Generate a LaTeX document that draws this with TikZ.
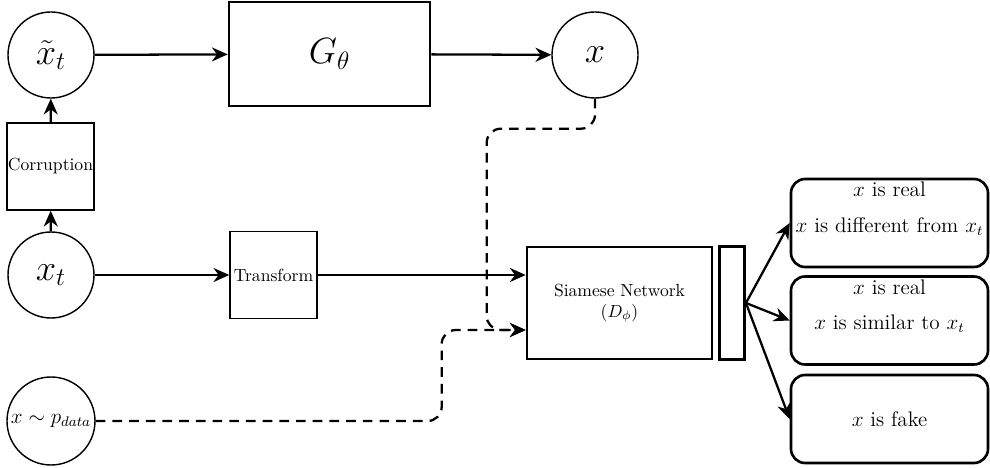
\documentclass[tikz,border=0pt]{standalone}
\usepackage{tikz}
\usetikzlibrary{positioning,calc}
\usetikzlibrary{arrows.meta}

\tikzset{
   var/.style={circle,draw,thick,fill=white,minimum size=1.72cm,inner sep=0pt},
   smallbox/.style={rectangle,draw,thick,fill=white,minimum size=1.74cm,inner sep=0pt},
   bigbox/.style={rectangle,draw,line width=1.5pt,fill=white,inner sep=0pt},
   outbox/.style={rectangle,draw,line width=1.5pt,rounded corners=8pt,fill=white,
      minimum width=3.94cm,minimum height=1.76cm,inner sep=0pt,align=center,font=\large},
   flow/.style={-{Stealth[length=9pt,width=8pt]},line width=1.3pt},
   dashline/.style={-{Stealth[length=9pt,width=8pt]},line width=1.3pt,dash pattern=on 5.5pt off 4pt,rounded corners=8pt}
}

\begin{document}
\begin{tikzpicture}
   \useasboundingbox (0,0) rectangle (19.8,-9.36);

   \node[var] (xtt) at (1.02,-1.1) {\huge \(\tilde{x}_t\)};
   \node[smallbox] (corr) at (1.01,-3.33) {Corruption};
   \node[var] (xt) at (1.02,-5.5) {\huge \(x_t\)};
   \node[var,minimum size=1.76cm] (pdata) at (1.02,-8.42) {\large \(x \sim p_{data}\)};

   \node[bigbox,minimum width=4.02cm,minimum height=2.08cm] (gen) at (6.59,-1.08) {\huge \(G_\theta\)};
   \node[var] (xo) at (11.9,-1.1) {\huge \(x\)};
   \node[smallbox] (trans) at (5.47,-5.5) {Transform};

   \node[bigbox,minimum width=3.7cm,minimum height=2.24cm,align=center] (siam) at (12.39,-6.06)
      {Siamese Network\\ \((D_\phi)\)};
   \node[bigbox,minimum width=0.5cm,minimum height=2.26cm,right=0.1cm of siam] (bar) {};

   \node[outbox] (real1) at (17.79,-4.46) {\(x\) is real\\[6pt] \(x\) is different from \(x_t\)\\[4pt]};
   \node[outbox] (real2) at (17.79,-6.41) {\(x\) is real\\[6pt] \(x\) is similar to \(x_t\)\\[4pt]};
   \node[outbox] (fake) at (17.79,-8.38) {\(x\) is fake};

   \coordinate[below=0.54cm of siam.west] (dIn);

   % generator path
   \draw[flow] (xt) -- (corr);
   \draw[flow] (corr) -- (xtt);
   \draw[flow] (xtt) -- (gen);
   \draw[flow] (gen) -- (xo);

   % discriminator inputs
   \draw[flow] (xt) -- (trans);
   \draw[flow] (trans) -- (trans -| siam.west);
   \draw[dashline] (xo.south) -- ++(0,-0.6) -| ([xshift=-0.78cm]dIn) -- (dIn);
   \draw[dashline] (pdata.east) -| ([xshift=-1.68cm]dIn) -- (dIn);

   % outputs
   \draw[flow] (bar.east) -- (real1.west);
   \draw[flow] (bar.east) -- (real2.west);
   \draw[flow] (bar.east) -- (fake.west);
\end{tikzpicture}
\end{document}
